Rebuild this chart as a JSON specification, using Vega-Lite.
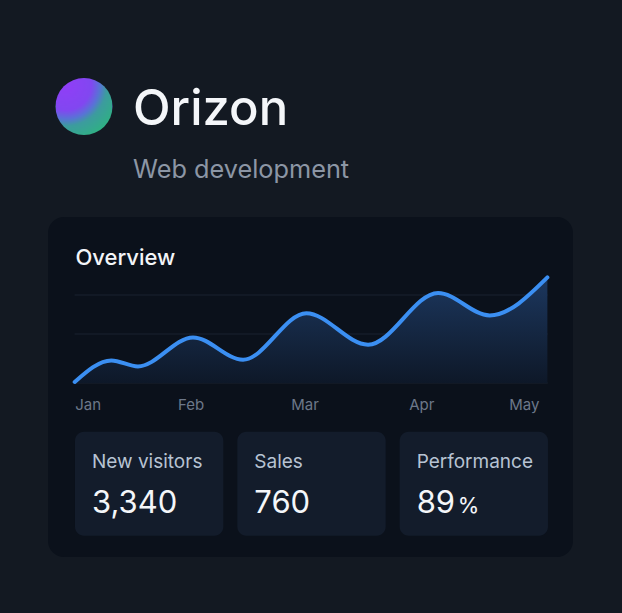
{
  "$schema": "https://vega.github.io/schema/vega-lite/v6.json",
  "background": "#131922",
  "padding": {"left": 48, "top": 78, "right": 49, "bottom": 56},
  "config": {"view": {"stroke": null}, "font": "Inter"},
  "datasets": {
    "brand": [{"name": "Orizon", "tagline": "Web development"}],
    "series": [
      {"t": -0.119, "v": 1},
      {"t": 0.217, "v": 22.6},
      {"t": 0.461, "v": 16.6},
      {"t": 0.966, "v": 45.6},
      {"t": 1.425, "v": 23.3},
      {"t": 2.006, "v": 69.8},
      {"t": 2.572, "v": 38.3},
      {"t": 3.214, "v": 90},
      {"t": 3.688, "v": 67.6},
      {"t": 4.217, "v": 105.6}
    ],
    "grid": [{"level": 0}, {"level": 49}, {"level": 88}],
    "kpis": [
      {"stat": "New visitors", "value": "3,340"},
      {"stat": "Sales", "value": "760"},
      {"stat": "Performance", "value": "89", "unit": "%"}
    ]
  },
  "bounds": "flush",
  "spacing": 82,
  "vconcat": [
    {
      "width": 72,
      "height": 57,
      "data": {"name": "brand"},
      "title": {
        "text": "Orizon",
        "subtitle": "Web development",
        "anchor": "start",
        "frame": "group",
        "dx": 85,
        "offset": -105,
        "fontSize": 49,
        "fontWeight": 500,
        "color": "#f4f6f9",
        "font": "Inter",
        "subtitleFont": "Inter",
        "subtitleFontSize": 25.3,
        "subtitleFontWeight": 400,
        "subtitleColor": "#8c96a5",
        "subtitlePadding": 23
      },
      "mark": {
        "type": "point",
        "shape": "circle",
        "filled": true,
        "size": 3249,
        "opacity": 1,
        "strokeWidth": 0,
        "fill": {
          "gradient": "radial",
          "x1": 0.18, "y1": 0.12, "r1": 0,
          "x2": 0.18, "y2": 0.12, "r2": 1,
          "stops": [
            {"offset": 0, "color": "#903ef7"},
            {"offset": 0.45, "color": "#8147f0"},
            {"offset": 0.6, "color": "#5873d5"},
            {"offset": 0.72, "color": "#3c9b9e"},
            {"offset": 1, "color": "#2fb083"}
          ]
        }
      },
      "encoding": {}
    },
    {
      "width": 525,
      "height": 340,
      "view": {"fill": "#0b111b", "cornerRadius": 16, "stroke": null},
      "title": {
        "text": "Overview",
        "anchor": "start",
        "frame": "group",
        "dx": 27.4,
        "offset": -53.4,
        "fontSize": 22,
        "fontWeight": 500,
        "color": "#f3f5f8",
        "font": "Inter"
      },
      "layer": [
        {
          "layer": [
            {
              "data": {"name": "grid"},
              "mark": {"type": "rule", "color": "#1a2331", "strokeWidth": 1},
              "encoding": {
                "y": {"field": "level", "type": "quantitative", "axis": null,
                      "scale": {"domain": [-174, 166], "nice": false, "zero": false}},
                "x": {"datum": -0.12, "type": "quantitative",
                      "scale": {"domain": [-0.364, 4.452], "nice": false, "zero": false},
                      "axis": {
                        "orient": "bottom",
                        "offset": -147.3,
                        "values": [0, 0.945, 1.99, 3.06, 4],
                        "labelExpr": "['Jan','Feb','Mar','Apr','May'][round(datum.value)]",
                        "domain": false,
                        "ticks": false,
                        "tickSize": 0,
                        "grid": false,
                        "title": null,
                        "labelPadding": 0,
                        "labelBaseline": "alphabetic",
                        "labelFont": "Inter",
                        "labelFontSize": 15,
                        "labelColor": "#6d7889",
                        "labelFlush": false,
                        "labelOverlap": false,
                        "labelBound": false
                      }},
                "x2": {"datum": 4.22}
              }
            },
            {
              "data": {"name": "series"},
              "mark": {
                "type": "area",
                "orient": "vertical",
                "interpolate": "monotone",
                "fill": {
                  "gradient": "linear",
                  "x1": 0, "y1": 0, "x2": 0, "y2": 1,
                  "stops": [
                    {"offset": 0, "color": "#1c375e"},
                    {"offset": 1, "color": "#0e1828"}
                  ]
                }
              },
              "encoding": {
                "x": {"field": "t", "type": "quantitative"},
                "y": {"field": "v", "type": "quantitative"},
                "y2": {"datum": 0}
              }
            },
            {
              "data": {"name": "series"},
              "mark": {"type": "line", "interpolate": "monotone", "color": "#3b8ff2", "strokeWidth": 4, "strokeCap": "round"},
              "encoding": {
                "x": {"field": "t", "type": "quantitative"},
                "y": {"field": "v", "type": "quantitative"}
              }
            }
          ]
        },
        {
          "data": {"name": "kpis"},
          "encoding": {
            "x": {"field": "stat", "type": "nominal", "sort": null, "axis": null,
                  "scale": {"type": "band", "domain": ["New visitors", "Sales", "Performance"],
                            "paddingInner": 0.08624, "paddingOuter": 0.16016, "align": 0.519}},
            "y": {"datum": "kpi", "type": "nominal", "axis": null,
                  "scale": {"type": "band", "domain": ["kpi"], "paddingInner": 0.1186,
                            "paddingOuter": 1, "align": 0.9097}}
          },
          "layer": [
            {"mark": {"type": "rect", "fill": "#131c2b", "cornerRadius": 9}},
            {
              "mark": {"type": "text", "align": "left", "baseline": "alphabetic", "dx": 17, "dy": -15.7,
                       "fontSize": 19, "fontWeight": 400, "color": "#b7c3d3", "font": "Inter"},
              "encoding": {
                "x": {"field": "stat", "type": "nominal", "bandPosition": 0},
                "text": {"field": "stat"}
              }
            },
            {
              "mark": {"type": "text", "align": "left", "baseline": "alphabetic", "dx": 17, "dy": 29.3,
                       "fontSize": 31, "fontWeight": 400, "color": "#f4f6f9", "font": "Inter"},
              "encoding": {
                "x": {"field": "stat", "type": "nominal", "bandPosition": 0},
                "text": {"field": "value"}
              }
            },
            {
              "transform": [{"filter": "datum.unit"}],
              "mark": {"type": "text", "align": "left", "baseline": "alphabetic", "dx": 58, "dy": 29.3,
                       "fontSize": 22, "fontWeight": 400, "color": "#f4f6f9", "font": "Inter"},
              "encoding": {
                "x": {"field": "stat", "type": "nominal", "bandPosition": 0},
                "text": {"field": "unit"}
              }
            }
          ]
        }
      ],
      "resolve": {
        "scale": {"x": "independent", "y": "independent"},
        "axis": {"x": "independent", "y": "independent"}
      }
    }
  ]
}
